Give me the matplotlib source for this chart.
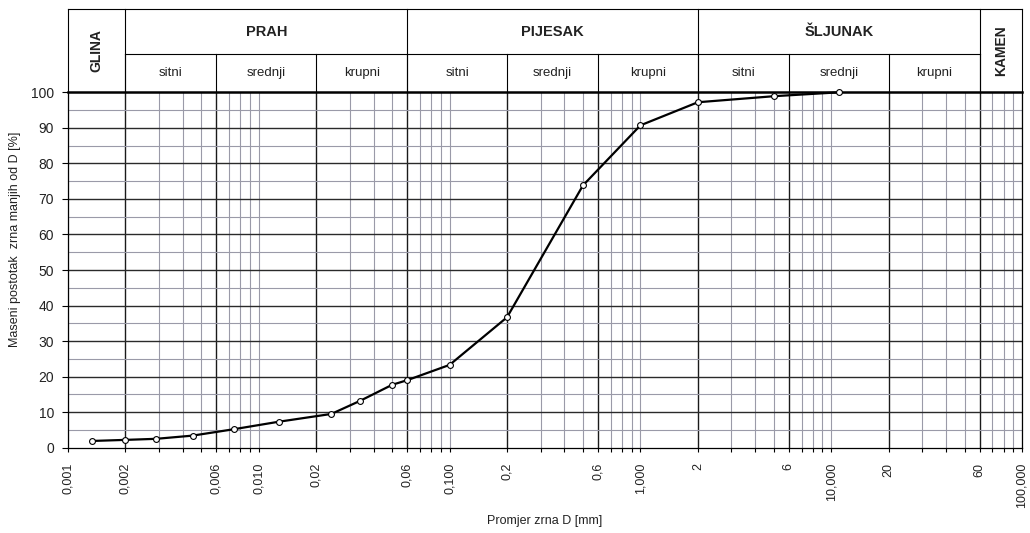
import matplotlib.pyplot as plt
import numpy as np

# grain size distribution (sieve + hydrometer)
diameter = [0.00134, 0.002, 0.0029, 0.0045, 0.0074, 0.0127, 0.024, 0.034,
            0.05, 0.06, 0.1, 0.2, 0.5, 1.0, 2.0, 5.0, 11.0]
passing = [1.9, 2.2, 2.5, 3.4, 5.2, 7.3, 9.5, 13.2,
           17.7, 19.0, 23.3, 36.7, 73.8, 90.7, 97.2, 98.9, 100.0]

fraction_names = ['GLINA', 'PRAH', 'PIJESAK', 'ŠLJUNAK', 'KAMEN']
fraction_bounds = [0.001, 0.002, 0.06, 2, 60, 100]
sub_names = ['sitni', 'srednji', 'krupni']
sub_bounds = [0.002, 0.006, 0.02, 0.06, 0.2, 0.6, 2, 6, 20, 60]

x_tick_values = [0.001, 0.002, 0.006, 0.01, 0.02, 0.06, 0.1, 0.2, 0.6, 1, 2, 6,
                 10, 20, 60, 100]
x_tick_labels = ['0,001', '0,002', '0,006', '0,010', '0,02', '0,06', '0,100',
                 '0,2', '0,6', '1,000', '2', '6', '10,000', '20', '60', '100,000']

plt.rcParams['font.family'] = ['Liberation Sans', 'DejaVu Sans']

W, H = 1030, 533
fig = plt.figure(figsize=(W / 100, H / 100), dpi=100)
x0, x1 = 68, 1022
y_top, y_bot, y_head = 92.3, 447.7, 9
ax = fig.add_axes([x0 / W, 1 - y_bot / H, (x1 - x0) / W, (y_bot - y_top) / H])
hax = fig.add_axes([x0 / W, 1 - y_top / H, (x1 - x0) / W, (y_top - y_head) / H])

ax.set_xscale('log')
ax.set_xlim(0.001, 100)
ax.set_ylim(0, 100)

# vertical grid: light for every log step, dark at fraction bounds
all_minor = [k * 10.0 ** e for e in range(-3, 2) for k in range(1, 10)] + [100]
for v in all_minor:
    if any(np.isclose(v, b) for b in sub_bounds):
        continue
    ax.axvline(v, color='#9a9aa8', lw=0.8, zorder=1)
for b in sub_bounds:
    ax.axvline(b, color='#1a1a1a', lw=1.0, zorder=1)

# horizontal grid
for yv in range(5, 100, 10):
    ax.axhline(yv, color='#9a9aa8', lw=0.8, zorder=1)
for yv in range(10, 100, 10):
    ax.axhline(yv, color='#2a2a2a', lw=1.0, zorder=1)

ax.plot(diameter, passing, color='black', lw=1.6, marker='o', ms=4.2,
        mfc='white', mec='black', mew=0.8, zorder=3, clip_on=False)

for s in ax.spines.values():
    s.set_color('black')
    s.set_linewidth(0.9)
ax.spines['top'].set_linewidth(1.8)

ax.set_xticks(x_tick_values)
ax.set_xticklabels(x_tick_labels, rotation=90, fontsize=9, color='#222222')
minor_ticks = [v for v in all_minor if not any(np.isclose(v, t) for t in x_tick_values)]
ax.set_xticks(minor_ticks, minor=True)
ax.xaxis.set_minor_formatter(plt.NullFormatter())
ax.tick_params(axis='x', which='both', direction='out', length=3, width=0.8, pad=8)
ax.set_yticks(range(0, 101, 10))
ax.tick_params(axis='y', direction='out', length=4, width=0.8, pad=6,
               labelsize=10, labelcolor='#222222')

fig.text((x0 + x1) / 2 / W, 1 - 521 / H, 'Promjer zrna D [mm]', ha='center',
         va='center', fontsize=9, color='#222222')
fig.text(15 / W, 1 - 239 / H, 'Maseni postotak  zrna manjih od D [%]',
         rotation=90, ha='center', va='center', fontsize=9, color='#222222')

# header table
hax.set_xscale('log')
hax.set_xlim(0.001, 100)
hax.set_ylim(0, 1)
hax.axis('off')
mid = (y_top - 54) / (y_top - y_head)
lk = dict(color='black', lw=0.8, clip_on=False)
hax.plot([0.001, 100], [1, 1], **lk)
hax.plot([0.001, 0.001], [0, 1], **lk)
hax.plot([100, 100], [0, 1], **lk)
hax.plot([fraction_bounds[1], fraction_bounds[-2]], [mid, mid], **lk)
for b in fraction_bounds[1:-1]:
    hax.plot([b, b], [0, 1], **lk)
for b in sub_bounds:
    hax.plot([b, b], [0, mid], **lk)

for i, name in enumerate(fraction_names):
    lo, hi = fraction_bounds[i], fraction_bounds[i + 1]
    xc = np.sqrt(lo * hi)
    if name in ('GLINA', 'KAMEN'):
        hax.text(xc, 0.5, name, rotation=90, ha='center', va='center',
                 fontsize=10, fontweight='bold', color='#222222')
    else:
        hax.text(xc, (1 + mid) / 2, name, ha='center', va='center',
                 fontsize=10.5, fontweight='bold', color='#222222')

for g in range(3):
    for j, name in enumerate(sub_names):
        lo, hi = sub_bounds[g * 3 + j], sub_bounds[g * 3 + j + 1]
        hax.text(np.sqrt(lo * hi), mid / 2, name, ha='center', va='center',
                 fontsize=9.5, color='#222222')

fig.savefig('out.png', dpi=100)
